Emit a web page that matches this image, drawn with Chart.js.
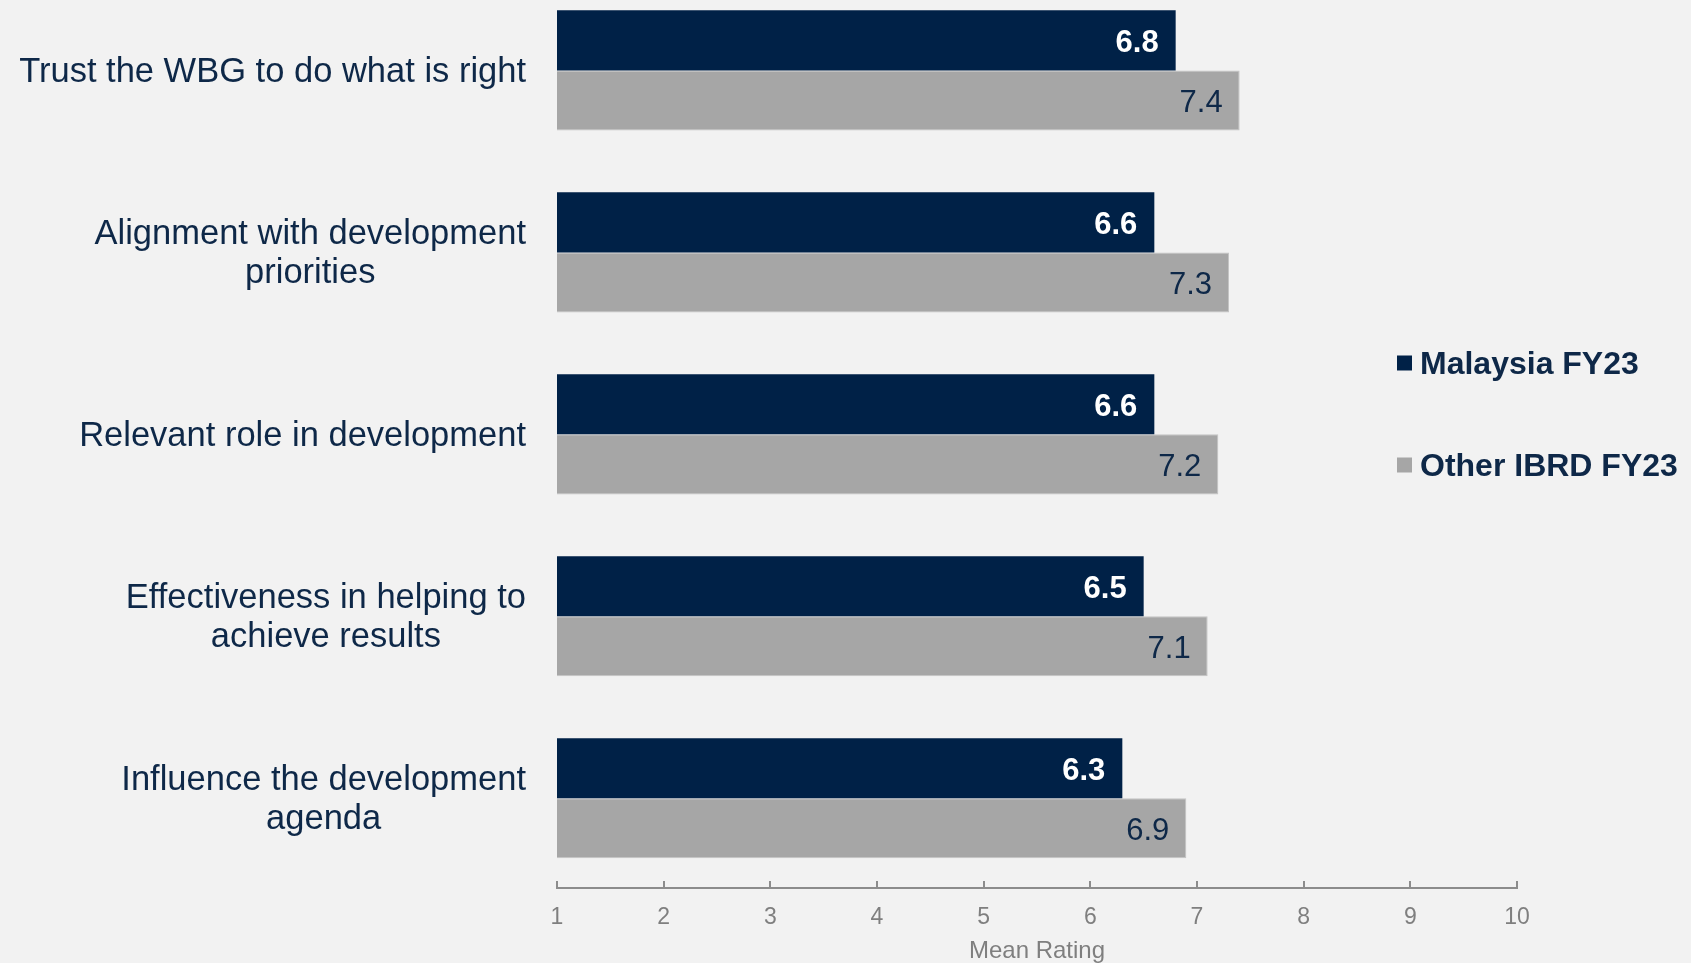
<!DOCTYPE html>
<html>
<head>
<meta charset="utf-8">
<script src="https://cdn.jsdelivr.net/npm/chart.js@4/dist/chart.umd.min.js"></script>
<style>
  html, body { margin: 0; padding: 0; background: #f2f2f2; }
  #wrap { width: 1691px; height: 963px; position: relative; }
</style>
</head>
<body>
<div id="wrap"><canvas id="c"></canvas></div>
<script>
const categories = [
  ["Trust the WBG to do what is right"],
  ["Alignment with development", "priorities"],
  ["Relevant role in development"],
  ["Effectiveness in helping to", "achieve results"],
  ["Influence the development", "agenda"]
];
const seriesNames = ["Malaysia FY23", "Other IBRD FY23"];
const malaysiaFY23 = [6.8, 6.6, 6.6, 6.5, 6.3];
const otherIBRDFY23 = [7.4, 7.3, 7.2, 7.1, 6.9];
const xTickValues = [1, 2, 3, 4, 5, 6, 7, 8, 9, 10];
const xTitle = "Mean Rating";

const NAVY = '#002147';
const GRAY = '#a6a6a6';
const TEXT = '#0e2848';
const AXIS = '#7f7f7f';
const FONT = "'Liberation Sans', Arial, sans-serif";

const bgPlugin = {
  id: 'bg',
  beforeDraw(chart) {
    const ctx = chart.ctx;
    ctx.save();
    ctx.fillStyle = '#f2f2f2';
    ctx.fillRect(0, 0, chart.width, chart.height);
    ctx.restore();
  }
};

const yLabelPlugin = {
  id: 'yLabels',
  afterDraw(chart) {
    const ctx = chart.ctx;
    const yScale = chart.scales.y;
    const right = chart.chartArea.left - 31;
    const lh = 39;
    ctx.save();
    ctx.font = '34.5px ' + FONT;
    ctx.fillStyle = TEXT;
    ctx.textAlign = 'center';
    ctx.textBaseline = 'middle';
    chart.data.labels.forEach((lines, i) => {
      const cy = yScale.getPixelForValue(i) + 2;
      let maxW = 0;
      lines.forEach(l => { maxW = Math.max(maxW, ctx.measureText(l).width); });
      const cx = right - maxW / 2;
      lines.forEach((l, j) => {
        ctx.fillText(l, cx, cy + (j - (lines.length - 1) / 2) * lh);
      });
    });
    ctx.restore();
  }
};

const valuePlugin = {
  id: 'values',
  afterDatasetsDraw(chart) {
    const ctx = chart.ctx;
    ctx.save();
    ctx.textAlign = 'right';
    ctx.textBaseline = 'middle';
    chart.data.datasets.forEach((ds, di) => {
      const meta = chart.getDatasetMeta(di);
      ctx.font = (di === 0 ? 'bold ' : '') + '31px ' + FONT;
      ctx.fillStyle = di === 0 ? '#ffffff' : TEXT;
      meta.data.forEach((el, i) => {
        ctx.fillText(ds.data[i].toFixed(1), el.x - 17, el.y + 3);
      });
    });
    ctx.restore();
  }
};

const legendPlugin = {
  id: 'customLegend',
  afterDraw(chart) {
    const ctx = chart.ctx;
    const x = 1397, ys = [363, 465], box = 15;
    ctx.save();
    ctx.font = 'bold 32px ' + FONT;
    ctx.textBaseline = 'middle';
    ctx.textAlign = 'left';
    chart.data.datasets.forEach((ds, i) => {
      ctx.fillStyle = ds.backgroundColor;
      ctx.fillRect(x, ys[i] - box / 2, box, box);
      ctx.fillStyle = TEXT;
      ctx.fillText(ds.label, x + 23, ys[i] + 2);
    });
    ctx.restore();
  }
};

new Chart(document.getElementById('c'), {
  type: 'bar',
  data: {
    labels: categories,
    datasets: [
      { label: seriesNames[0], data: malaysiaFY23, backgroundColor: NAVY, borderWidth: 0 },
      { label: seriesNames[1], data: otherIBRDFY23, backgroundColor: GRAY, borderColor: '#c4c4c4', borderWidth: 1, borderSkipped: false }
    ]
  },
  options: {
    indexAxis: 'y',
    responsive: true,
    maintainAspectRatio: false,
    animation: false,
    categoryPercentage: 0.66,
    barPercentage: 1.0,
    layout: { padding: { left: 557, right: 174, top: 0, bottom: 0 } },
    plugins: {
      legend: { display: false },
      tooltip: { enabled: false }
    },
    scales: {
      y: {
        display: false,
        offset: true,
        afterBuildTicks(scale) {
          // shift the category band so the first group sits near the top edge
          scale._startValue = -0.387;
          scale._valueRange = 4.88;
        }
      },
      x: {
        min: xTickValues[0],
        max: xTickValues[xTickValues.length - 1],
        afterBuildTicks(scale) {
          scale.ticks = xTickValues.map(v => ({ value: v }));
        },
        afterFit(scale) {
          scale.height = 75;
        },
        border: { display: true, color: '#8c8c8c', width: 2 },
        grid: { drawOnChartArea: false, drawTicks: true, tickLength: -7, color: '#8c8c8c', lineWidth: 2 },
        ticks: {
          color: AXIS,
          padding: 23,
          font: { family: FONT, size: 23 }
        },
        title: {
          display: true,
          text: xTitle,
          color: AXIS,
          font: { family: FONT, size: 24 },
          padding: { top: 0, bottom: -3 }
        }
      }
    }
  },
  plugins: [bgPlugin, yLabelPlugin, valuePlugin, legendPlugin]
});
</script>
</body>
</html>
